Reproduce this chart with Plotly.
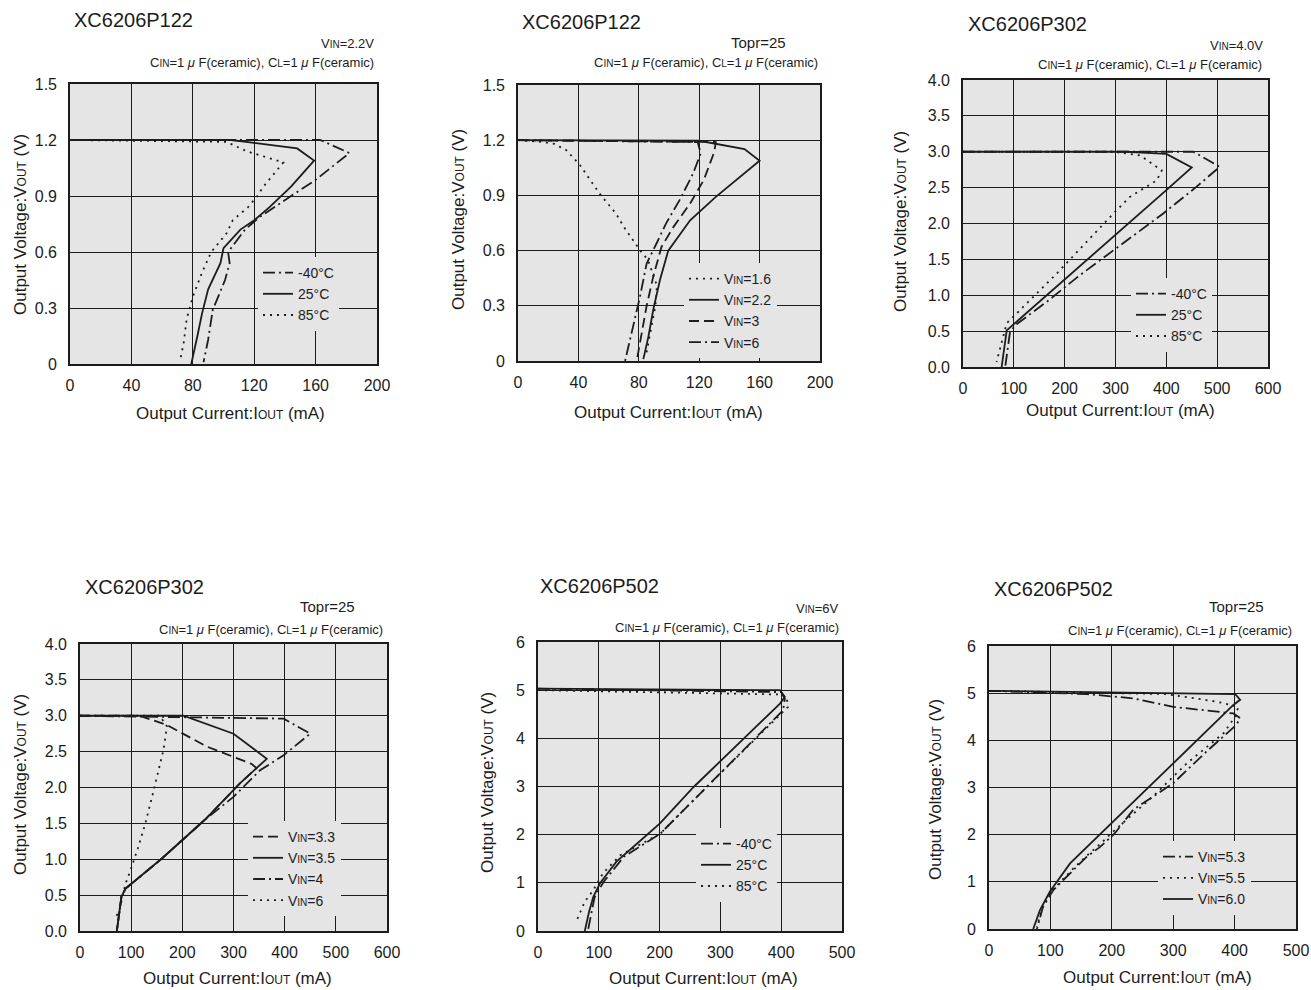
import plotly.graph_objects as go

W, H = 1311, 990
FONT = "Liberation Sans, Arial, sans-serif"
INK = "#1c1c1c"
PLOT_BG = "#e5e5e5"

# ---------------- data (IOUT mA, VOUT V) ----------------
# Panel 1: XC6206P122, VIN=2.2V, temperatures
p1_m40_x = [0, 163, 182, 159, 144, 124, 114, 103, 104, 101, 93, 90, 87]
p1_m40_y = [1.2, 1.2, 1.13, 0.98, 0.90, 0.79, 0.72, 0.60, 0.54, 0.45, 0.29, 0.13, 0.01]
p1_25_x = [0, 105, 148, 159, 144, 130, 120, 111, 100, 98, 90, 86, 83, 79]
p1_25_y = [1.2, 1.2, 1.155, 1.09, 0.95, 0.84, 0.77, 0.72, 0.62, 0.54, 0.40, 0.27, 0.15, 0.0]
p1_85_x = [0, 102, 115, 139, 135, 126, 122, 116, 106, 102, 92, 86, 80, 76, 74, 72]
p1_85_y = [1.2, 1.19, 1.14, 1.08, 1.04, 0.95, 0.90, 0.84, 0.77, 0.70, 0.60, 0.49, 0.36, 0.24, 0.11, 0.03]

# Panel 2: XC6206P122, Topr=25, VIN
p2_16_x = [0, 17, 24, 32, 41, 54, 65, 70, 81, 86, 92, 91, 88, 85]
p2_16_y = [1.2, 1.19, 1.18, 1.146, 1.065, 0.91, 0.80, 0.73, 0.60, 0.55, 0.41, 0.30, 0.17, 0.04]
p2_22_x = [0, 120, 150, 160, 131, 114, 99.5, 94, 89.6, 86.3, 83]
p2_22_y = [1.2, 1.197, 1.152, 1.088, 0.892, 0.765, 0.60, 0.44, 0.28, 0.13, 0.01]
p2_3_x = [0, 120, 131, 130, 123, 114, 103, 95, 89.6, 85.2, 81.9, 78.6]
p2_3_y = [1.2, 1.19, 1.19, 1.137, 0.983, 0.856, 0.729, 0.62, 0.46, 0.30, 0.15, 0.0]
p2_6_x = [0, 119, 121, 116, 107, 98, 91.8, 85.2, 80.8, 76.4, 70.9]
p2_6_y = [1.2, 1.19, 1.128, 1.02, 0.874, 0.747, 0.64, 0.53, 0.35, 0.19, 0.0]

# Panel 3: XC6206P302, VIN=4.0V, temperatures
p3_m40_x = [0, 453, 505, 459, 394, 230, 165, 106, 92.5, 83]
p3_m40_y = [3.0, 3.0, 2.79, 2.51, 2.14, 1.28, 0.91, 0.60, 0.49, 0.0]
p3_25_x = [0, 322, 400, 450, 400, 99, 86, 76]
p3_25_y = [3.0, 3.0, 2.97, 2.78, 2.465, 0.58, 0.51, 0.0]
p3_85_x = [0, 296, 348, 391, 381, 328, 296, 184, 106, 86, 66]
p3_85_y = [3.0, 3.0, 2.95, 2.74, 2.60, 2.37, 2.14, 1.30, 0.75, 0.61, 0.07]

# Panel 4: XC6206P302, Topr=25, VIN
p4_33_x = [0, 117, 170, 248, 335, 345, 313, 244, 160, 89, 81, 72]
p4_33_y = [3.0, 3.0, 2.87, 2.57, 2.33, 2.27, 2.06, 1.55, 1.01, 0.59, 0.48, 0.0]
p4_35_x = [0, 202, 300, 365, 345, 313, 244, 160, 89, 81, 72]
p4_35_y = [3.0, 3.0, 2.75, 2.40, 2.27, 2.06, 1.55, 1.01, 0.59, 0.48, 0.0]
p4_4_x = [0, 398, 450, 398, 352, 300, 244, 160, 89, 81, 72]
p4_4_y = [3.0, 2.96, 2.75, 2.45, 2.24, 1.87, 1.55, 1.01, 0.59, 0.48, 0.0]
p4_6_x = [0, 156, 170, 163, 144, 127, 113, 106, 98, 89, 78, 68]
p4_6_y = [3.0, 3.0, 2.85, 2.52, 1.96, 1.48, 1.15, 0.99, 0.83, 0.66, 0.32, 0.15]

# Panel 5: XC6206P502, VIN=6V, temperatures
p5_m40_x = [0, 400, 406, 403, 283, 201, 141, 108, 93, 82]
p5_m40_y = [5.03, 4.96, 4.82, 4.58, 3.06, 2.02, 1.54, 1.02, 0.70, 0.0]
p5_25_x = [0, 398, 406, 398, 256, 201, 157, 129, 102, 91, 84, 77]
p5_25_y = [5.03, 5.0, 4.86, 4.72, 2.99, 2.24, 1.75, 1.44, 0.99, 0.71, 0.40, 0.0]
p5_85_x = [0, 398, 409, 411, 294, 201, 135, 107, 91, 77, 64]
p5_85_y = [5.0, 4.91, 4.86, 4.65, 3.20, 2.02, 1.57, 1.20, 0.85, 0.61, 0.23]

# Panel 6: XC6206P502, Topr=25, VIN
p6_53_x = [0, 159, 235, 300, 398, 409, 403, 354, 300, 235, 205, 181, 159, 137, 105, 88, 78]
p6_53_y = [5.05, 4.98, 4.89, 4.71, 4.57, 4.47, 4.33, 3.76, 3.09, 2.53, 2.03, 1.74, 1.53, 1.25, 0.83, 0.47, 0.0]
p6_55_x = [0, 289, 371, 406, 401, 382, 322, 267, 205, 181, 159, 137, 105, 88, 78]
p6_55_y = [5.05, 4.98, 4.82, 4.71, 4.50, 4.15, 3.51, 2.81, 2.10, 1.80, 1.55, 1.28, 0.85, 0.50, 0.05]
p6_60_x = [0, 401, 409, 398, 300, 211, 181, 132, 99, 83, 72]
p6_60_y = [5.05, 4.98, 4.86, 4.75, 3.51, 2.38, 1.99, 1.39, 0.79, 0.40, 0.0]

# ---------------- text ----------------
SC = "<span style='font-size:10px'>{}</span>"
CLINE = ("C" + SC.format("IN") + "=1 <i>μ</i> F(ceramic), C" + SC.format("L")
         + "=1 <i>μ</i> F(ceramic)")
LSC = "<span style='font-size:10px'>IN</span>"
YTITLE = "Output Voltage:V<span style='font-size:12px'>OUT</span> (V)"
XTITLE = "Output Current:I<span style='font-size:12px'>OUT</span> (mA)"

temp_labels = ["-40°C", "25°C", "85°C"]

SOLID = "solid"
DOT = "2px,5px"
DASH = "10px,5px"
DASHDOT = "12px,4px,2px,4px"


def px(x):
    return x / W


def py(y):
    return 1 - y / H


panels = [
    dict(box=(70, 84, 377, 364), xr=[0, 200], xd=40, yr=[0, 1.5], yd=0.3, yfmt="",
         title="XC6206P122", title_xy=(72, 20),
         notes=[("V" + LSC + "=2.2V", 376, 44, 13), (CLINE, 376, 63, 13)],
         ytx=(20, 225), xtx=(230, 413), leg=(258, 257),
         series=[(p1_m40_x, p1_m40_y, temp_labels[0], DASHDOT),
                 (p1_25_x, p1_25_y, temp_labels[1], SOLID),
                 (p1_85_x, p1_85_y, temp_labels[2], DOT)]),
    dict(box=(518, 85, 820, 361), xr=[0, 200], xd=40, yr=[0, 1.5], yd=0.3, yfmt="",
         title="XC6206P122", title_xy=(520, 22),
         notes=[("Topr=25", 788, 42, 15), (CLINE, 820, 63, 13)],
         ytx=(458, 220), xtx=(668, 412), leg=(684, 263),
         series=[(p2_16_x, p2_16_y, "V" + LSC + "=1.6", DOT),
                 (p2_22_x, p2_22_y, "V" + LSC + "=2.2", SOLID),
                 (p2_3_x, p2_3_y, "V" + LSC + "=3", DASH),
                 (p2_6_x, p2_6_y, "V" + LSC + "=6", DASHDOT)]),
    dict(box=(963, 80, 1268, 367), xr=[0, 600], xd=100, yr=[0, 4], yd=0.5, yfmt=".1f",
         title="XC6206P302", title_xy=(966, 24),
         notes=[("V" + LSC + "=4.0V", 1265, 46, 13), (CLINE, 1264, 65, 13)],
         ytx=(900, 222), xtx=(1120, 410), leg=(1131, 278),
         series=[(p3_m40_x, p3_m40_y, temp_labels[0], DASHDOT),
                 (p3_25_x, p3_25_y, temp_labels[1], SOLID),
                 (p3_85_x, p3_85_y, temp_labels[2], DOT)]),
    dict(box=(80, 644, 387, 931), xr=[0, 600], xd=100, yr=[0, 4], yd=0.5, yfmt=".1f",
         title="XC6206P302", title_xy=(83, 587),
         notes=[("Topr=25", 357, 606, 15), (CLINE, 385, 629, 13)],
         ytx=(20, 785), xtx=(237, 978), leg=(248, 821),
         series=[(p4_33_x, p4_33_y, "V" + LSC + "=3.3", DASH),
                 (p4_35_x, p4_35_y, "V" + LSC + "=3.5", SOLID),
                 (p4_4_x, p4_4_y, "V" + LSC + "=4", DASHDOT),
                 (p4_6_x, p4_6_y, "V" + LSC + "=6", DOT)]),
    dict(box=(538, 642, 842, 931), xr=[0, 500], xd=100, yr=[0, 6], yd=1, yfmt="",
         title="XC6206P502", title_xy=(538, 586),
         notes=[("V" + LSC + "=6V", 840, 608, 13), (CLINE, 841, 627, 13)],
         ytx=(487, 783), xtx=(703, 978), leg=(696, 828),
         series=[(p5_m40_x, p5_m40_y, temp_labels[0], DASHDOT),
                 (p5_25_x, p5_25_y, temp_labels[1], SOLID),
                 (p5_85_x, p5_85_y, temp_labels[2], DOT)]),
    dict(box=(989, 646, 1296, 929), xr=[0, 500], xd=100, yr=[0, 6], yd=1, yfmt="",
         title="XC6206P502", title_xy=(992, 589),
         notes=[("Topr=25", 1266, 606, 15), (CLINE, 1294, 630, 13)],
         ytx=(935, 790), xtx=(1157, 977), leg=(1158, 841),
         series=[(p6_53_x, p6_53_y, "V" + LSC + "=5.3", DASHDOT),
                 (p6_55_x, p6_55_y, "V" + LSC + "=5.5", DOT),
                 (p6_60_x, p6_60_y, "V" + LSC + "=6.0", SOLID)]),
]

fig = go.Figure()
layout = dict(
    width=W, height=H, margin=dict(l=0, r=0, t=0, b=0, pad=0, autoexpand=False),
    paper_bgcolor="white", plot_bgcolor=PLOT_BG,
    font=dict(family=FONT, color=INK),
    annotations=[],
)

for i, p in enumerate(panels, start=1):
    sfx = "" if i == 1 else str(i)
    xa, ya = "x" + sfx, "y" + sfx
    lg = "legend" + sfx
    x0, y0, x1, y1 = p["box"]
    for xs, ys, name, dash in p["series"]:
        fig.add_trace(go.Scatter(
            x=xs, y=ys, mode="lines", name=name, xaxis=xa, yaxis=ya,
            legend=lg, line=dict(color=INK, width=1.8, dash=dash),
            cliponaxis=True, hoverinfo="skip"))
    layout["xaxis" + sfx] = dict(
        domain=[px(x0), px(x1)], anchor=ya, range=p["xr"], dtick=p["xd"], tick0=0,
        showgrid=True, gridcolor=INK, gridwidth=1, zeroline=False,
        showline=True, linecolor=INK, linewidth=1.6, mirror=True, automargin=False,
        ticks="", ticklabelstandoff=6, tickfont=dict(size=16, color=INK),
        fixedrange=True)
    layout["yaxis" + sfx] = dict(
        domain=[py(y1), py(y0)], anchor=xa, range=p["yr"], dtick=p["yd"], tick0=0,
        tickformat=p["yfmt"], automargin=False,
        showgrid=True, gridcolor=INK, gridwidth=1, zeroline=False,
        showline=True, linecolor=INK, linewidth=1.6, mirror=True,
        ticks="", ticklabelstandoff=8, tickfont=dict(size=16, color=INK),
        fixedrange=True)
    lx, ly = p["leg"]
    layout[lg] = dict(
        x=px(lx), y=py(ly), xanchor="left", yanchor="top", xref="paper", yref="paper",
        bgcolor=PLOT_BG, borderwidth=0, font=dict(size=14, color=INK),
        tracegroupgap=0, itemclick=False, itemdoubleclick=False)
    tx, ty = p["title_xy"]
    layout["annotations"].append(dict(
        text=p["title"], x=px(tx), y=py(ty), xref="paper", yref="paper",
        xanchor="left", yanchor="middle", showarrow=False,
        font=dict(size=20, color=INK)))
    for txt, nx, ny, fs in p["notes"]:
        layout["annotations"].append(dict(
            text=txt, x=px(nx), y=py(ny), xref="paper", yref="paper",
            xanchor="right", yanchor="middle", showarrow=False,
            font=dict(size=fs, color=INK)))
    yx, yy = p["ytx"]
    layout["annotations"].append(dict(
        text=YTITLE, x=px(yx), y=py(yy), xref="paper", yref="paper",
        xanchor="center", yanchor="middle", textangle=-90, showarrow=False,
        font=dict(size=17, color=INK)))
    xx, xy = p["xtx"]
    layout["annotations"].append(dict(
        text=XTITLE, x=px(xx), y=py(xy), xref="paper", yref="paper",
        xanchor="center", yanchor="middle", showarrow=False,
        font=dict(size=17, color=INK)))

fig.update_layout(**layout)
fig.write_html(
    "out.html",
    config={"displayModeBar": False},
    post_script="document.body.style.margin='0px';document.body.style.overflow='hidden';",
)
